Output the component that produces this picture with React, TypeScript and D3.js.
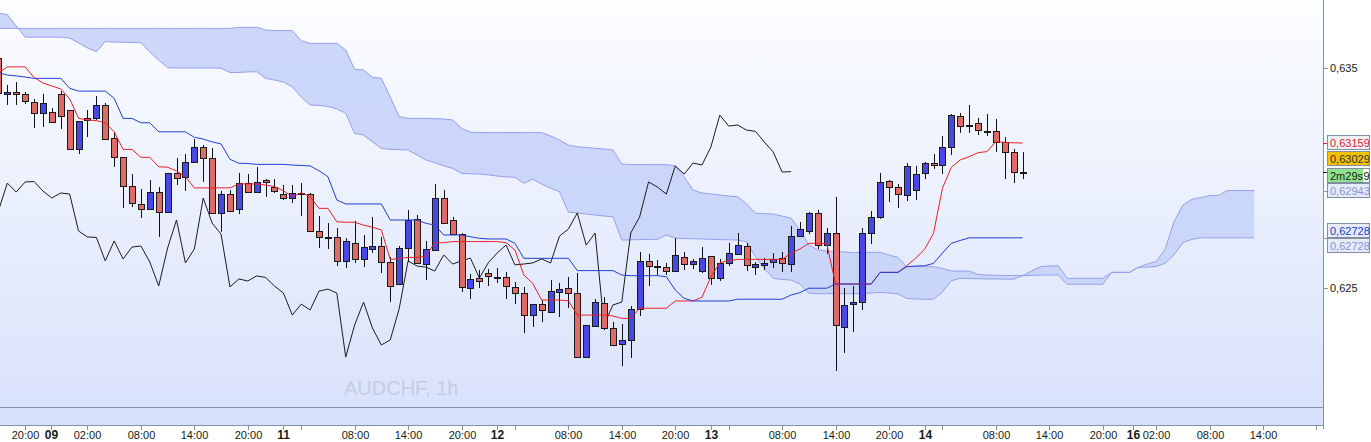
import * as d3 from "d3";

// AUDCHF hourly candles
const open = [
  0.63545, 0.63382, 0.63391, 0.63382, 0.63345, 0.63295, 0.633, 0.63382, 0.63309, 0.63132,
  0.63273, 0.63273, 0.63332, 0.63182, 0.63095, 0.62964, 0.62882, 0.62859, 0.62936, 0.62845,
  0.63023, 0.63005, 0.63073, 0.63141, 0.63091, 0.62841, 0.62927, 0.62859, 0.62977, 0.62936,
  0.62991, 0.62959, 0.62927, 0.62909, 0.62932, 0.62927, 0.62759, 0.62732, 0.62732, 0.62623,
  0.62705, 0.62632, 0.62677, 0.62691, 0.62618, 0.62518, 0.62682, 0.62814, 0.62609, 0.62673,
  0.62909, 0.62809, 0.62745, 0.625, 0.62545, 0.62568, 0.6255, 0.6255, 0.62505, 0.62477,
  0.62377, 0.62427, 0.62391, 0.62482, 0.625, 0.62477, 0.62186, 0.62327, 0.62432, 0.62318,
  0.62245, 0.62264, 0.62405, 0.62623, 0.62598, 0.62595, 0.62577, 0.62641, 0.62609, 0.62577,
  0.62645, 0.62545, 0.62614, 0.62655, 0.62691, 0.62595, 0.62605, 0.62618, 0.62636, 0.62609,
  0.62736, 0.62759, 0.62841, 0.62695, 0.6275, 0.62323, 0.62427, 0.62436, 0.6275, 0.62823,
  0.62986, 0.62959, 0.62923, 0.62945, 0.63023, 0.63068, 0.63059, 0.63141, 0.63282, 0.63243,
  0.6325, 0.63214, 0.63214, 0.63164, 0.63118, 0.63027,
];
const high = [
  0.63555, 0.63423, 0.63436, 0.63391, 0.63359, 0.63382, 0.63318, 0.63395, 0.63309, 0.63259,
  0.63309, 0.63373, 0.63341, 0.63209, 0.63095, 0.63018, 0.6295, 0.62991, 0.62959, 0.63023,
  0.63091, 0.63109, 0.63177, 0.6315, 0.63136, 0.62941, 0.62945, 0.63023, 0.63018, 0.6305,
  0.62995, 0.62995, 0.62968, 0.62968, 0.62977, 0.62932, 0.62827, 0.62795, 0.62773, 0.62727,
  0.62805, 0.62741, 0.62823, 0.62732, 0.62641, 0.62691, 0.62855, 0.62832, 0.62714, 0.62973,
  0.62945, 0.62823, 0.6275, 0.62564, 0.62582, 0.62586, 0.62591, 0.62573, 0.62527, 0.62505,
  0.62427, 0.62445, 0.62536, 0.62523, 0.6255, 0.62568, 0.62332, 0.6245, 0.62459, 0.62345,
  0.62336, 0.62418, 0.62664, 0.62655, 0.62627, 0.62614, 0.62727, 0.62664, 0.62632, 0.62686,
  0.62645, 0.62632, 0.62705, 0.6275, 0.62705, 0.62618, 0.62636, 0.62659, 0.62664, 0.62782,
  0.628, 0.62845, 0.62855, 0.62773, 0.62914, 0.625, 0.62509, 0.62773, 0.6285, 0.63023,
  0.62991, 0.62973, 0.63068, 0.63055, 0.63073, 0.63109, 0.63191, 0.63291, 0.63295, 0.63332,
  0.63273, 0.63291, 0.63268, 0.63186, 0.63132, 0.63118,
];
const low = [
  0.63377, 0.63332, 0.63332, 0.63336, 0.63227, 0.63232, 0.6325, 0.63223, 0.63127, 0.63109,
  0.63186, 0.63264, 0.63173, 0.6305, 0.62864, 0.62868, 0.62818, 0.62859, 0.62732, 0.62841,
  0.62968, 0.62941, 0.63068, 0.62982, 0.62836, 0.62755, 0.62845, 0.62836, 0.62932, 0.62936,
  0.62914, 0.62932, 0.629, 0.62886, 0.62827, 0.62755, 0.62682, 0.62677, 0.626, 0.62591,
  0.62614, 0.62595, 0.62659, 0.62568, 0.62436, 0.62514, 0.62618, 0.62609, 0.62536, 0.62668,
  0.62791, 0.62741, 0.62482, 0.6245, 0.625, 0.62509, 0.62523, 0.6245, 0.62427, 0.62295,
  0.62323, 0.62345, 0.62386, 0.62368, 0.62409, 0.62182, 0.62182, 0.62327, 0.62309, 0.62236,
  0.62145, 0.62182, 0.62373, 0.62509, 0.62559, 0.62559, 0.62577, 0.62582, 0.62586, 0.62568,
  0.62514, 0.62532, 0.626, 0.62655, 0.62577, 0.62559, 0.62582, 0.62591, 0.62573, 0.62573,
  0.62736, 0.62745, 0.62677, 0.62655, 0.62123, 0.62205, 0.623, 0.624, 0.627, 0.62814,
  0.62891, 0.62864, 0.62895, 0.629, 0.62995, 0.63041, 0.63018, 0.63105, 0.63205, 0.63205,
  0.63195, 0.63191, 0.63118, 0.62995, 0.62977, 0.62995,
];
const close = [
  0.63386, 0.63389, 0.63382, 0.6335, 0.63295, 0.63341, 0.63255, 0.63282, 0.63132, 0.63259,
  0.63264, 0.63332, 0.63177, 0.63095, 0.62964, 0.62886, 0.62859, 0.62936, 0.62845, 0.63023,
  0.63, 0.63073, 0.63141, 0.63091, 0.62841, 0.62927, 0.6285, 0.62977, 0.62936, 0.62982,
  0.62984, 0.62941, 0.62909, 0.62932, 0.62927, 0.62759, 0.62732, 0.6273, 0.62623, 0.62714,
  0.62632, 0.62686, 0.62691, 0.62618, 0.62509, 0.62682, 0.62809, 0.62614, 0.62677, 0.62909,
  0.62795, 0.62745, 0.62505, 0.62541, 0.62532, 0.62555, 0.62548, 0.62509, 0.62477, 0.62377,
  0.62427, 0.624, 0.62486, 0.62495, 0.62477, 0.62186, 0.62332, 0.62436, 0.62318, 0.62241,
  0.62264, 0.62405, 0.62623, 0.626, 0.62595, 0.62577, 0.6265, 0.62609, 0.62623, 0.62636,
  0.62545, 0.62614, 0.62659, 0.62695, 0.62605, 0.62609, 0.62614, 0.62632, 0.62614, 0.62736,
  0.62768, 0.62841, 0.62695, 0.6275, 0.62332, 0.62423, 0.62436, 0.6275, 0.62823, 0.62982,
  0.62959, 0.62927, 0.63055, 0.63018, 0.63068, 0.63059, 0.63141, 0.63286, 0.63236, 0.63241,
  0.63218, 0.63212, 0.63164, 0.63118, 0.63027, 0.63029,
];

// Ichimoku lines
const tenkan = [
  0.63477, 0.63505, 0.63505, 0.63505, 0.63457, 0.63432, 0.63418, 0.63405, 0.6336, 0.63271,
  0.63264, 0.63261, 0.63251, 0.6321, 0.6313, 0.6313, 0.63094, 0.63094, 0.63051, 0.63049,
  0.63032, 0.63006, 0.62955, 0.62955, 0.62955, 0.62955, 0.62955, 0.62973, 0.62973, 0.62973,
  0.62968, 0.62961, 0.62942, 0.62915, 0.62933, 0.62915, 0.62862, 0.62862, 0.62801, 0.62799,
  0.62799, 0.62786, 0.62776, 0.62764, 0.6263, 0.62634, 0.62639, 0.62639, 0.62645, 0.62706,
  0.62706, 0.62711, 0.62711, 0.62711, 0.62711, 0.62711, 0.62711, 0.62706, 0.62673, 0.62559,
  0.62521, 0.62445, 0.62445, 0.62445, 0.62442, 0.62377, 0.62377, 0.62377, 0.62377, 0.62373,
  0.62362, 0.62362, 0.62408, 0.62408, 0.62408, 0.62408, 0.62441, 0.62441, 0.62441, 0.62458,
  0.62551, 0.62615, 0.62624, 0.6263, 0.6263, 0.6263, 0.6263, 0.6263, 0.6263, 0.62658,
  0.62677, 0.62703, 0.62703, 0.62703, 0.62518, 0.62518, 0.62518, 0.62518, 0.62518, 0.62571,
  0.62571, 0.62571, 0.62601, 0.62636, 0.62676, 0.62749, 0.62953, 0.63049, 0.63082, 0.63097,
  0.63115, 0.6312, 0.63165, 0.63162, 0.6316, 0.63159,
];
const kijun = [
  0.63479, 0.63468, 0.63464, 0.63459, 0.63453, 0.63453, 0.63453, 0.63453, 0.63408, 0.63395,
  0.63395, 0.63395, 0.63395, 0.63362, 0.63271, 0.63271, 0.63251, 0.63251, 0.6321, 0.6321,
  0.6321, 0.6321, 0.63185, 0.63177, 0.63164, 0.63155, 0.63085, 0.63067, 0.63066, 0.63062,
  0.63062, 0.63062, 0.63062, 0.63059, 0.63057, 0.63055, 0.63033, 0.63006, 0.629, 0.62882,
  0.62882, 0.62882, 0.62882, 0.62882, 0.62809, 0.62809, 0.62809, 0.62809, 0.62794, 0.62786,
  0.62741, 0.62741, 0.62741, 0.62733, 0.62726, 0.62723, 0.62723, 0.62723, 0.62703, 0.62635,
  0.62635, 0.62635, 0.62635, 0.62635, 0.62635, 0.62579, 0.62579, 0.62579, 0.62579, 0.62579,
  0.62559, 0.62556, 0.62556, 0.62556, 0.62556, 0.62551, 0.62491, 0.62453, 0.62441, 0.62441,
  0.62441, 0.62441, 0.62441, 0.62449, 0.62449, 0.62449, 0.62449, 0.62449, 0.62449, 0.62468,
  0.62479, 0.62499, 0.62499, 0.62499, 0.62518, 0.62518, 0.62518, 0.62518, 0.62518, 0.62571,
  0.62571, 0.62571, 0.62597, 0.626, 0.62601, 0.62612, 0.62659, 0.62703, 0.62716, 0.62728,
  0.62728, 0.62728, 0.62728, 0.62728, 0.62728, 0.62728,
];
// senkou spans, already shifted 26 bars forward
const spanA = [
  0.63749, 0.63743, 0.63691, 0.6364, 0.6364, 0.6364, 0.6364, 0.6364, 0.63636, 0.63614,
  0.63591, 0.63574, 0.6362, 0.63618, 0.63617, 0.63616, 0.63615, 0.63573, 0.63536, 0.63501,
  0.635, 0.635, 0.635, 0.635, 0.635, 0.63499, 0.63479, 0.6348, 0.63482, 0.63483,
  0.63453, 0.63445, 0.63436, 0.63414, 0.63368, 0.63332, 0.6333, 0.63325, 0.63314, 0.63294,
  0.63203, 0.63195, 0.63164, 0.63135, 0.6313, 0.63129, 0.63127, 0.63105, 0.63082, 0.6307,
  0.63055, 0.63044, 0.63021, 0.63019, 0.63018, 0.63014, 0.63009, 0.63005, 0.63003, 0.62976,
  0.62994, 0.62973, 0.62953, 0.62938, 0.62845, 0.62841, 0.62836, 0.62832, 0.62827, 0.62824,
  0.62718, 0.62719, 0.6272, 0.62721, 0.62721, 0.62741, 0.62726, 0.62725, 0.62724, 0.62723,
  0.62721, 0.6272, 0.62719, 0.62718, 0.6271, 0.62642, 0.62589, 0.62544, 0.62539, 0.62536,
  0.62518, 0.62476, 0.62474, 0.62474, 0.62474, 0.62474, 0.62474, 0.62475, 0.62477, 0.6248,
  0.62477, 0.62473, 0.62453, 0.6245, 0.62449, 0.62449, 0.62482, 0.62533, 0.62544, 0.62543,
  0.62542, 0.62541, 0.62541, 0.6254, 0.6254, 0.62556, 0.62577, 0.62597, 0.626, 0.62601,
  0.62544, 0.62544, 0.62544, 0.62544, 0.62544, 0.62571, 0.62571, 0.62571, 0.62594, 0.62609,
  0.6262, 0.62676, 0.62801, 0.62877, 0.62903, 0.62911, 0.6292, 0.62921, 0.62943, 0.62943,
  0.62943, 0.62943,
];
const spanB = [
  0.6368, 0.6368, 0.6368, 0.6368, 0.6368, 0.6368, 0.6368, 0.6368, 0.6368, 0.6368,
  0.6368, 0.6368, 0.6368, 0.6368, 0.6368, 0.6368, 0.6368, 0.6368, 0.6368, 0.6368,
  0.6368, 0.6368, 0.6368, 0.6368, 0.6368, 0.6368, 0.6368, 0.63685, 0.63685, 0.63685,
  0.63673, 0.6367, 0.6367, 0.6367, 0.63624, 0.63612, 0.63612, 0.63612, 0.63612, 0.63582,
  0.63494, 0.63491, 0.63458, 0.63453, 0.63368, 0.63279, 0.63271, 0.63271, 0.63271, 0.6327,
  0.63268, 0.63264, 0.63226, 0.63208, 0.63207, 0.63207, 0.63207, 0.63207, 0.63207, 0.63207,
  0.63207, 0.63206, 0.63191, 0.63173, 0.6315, 0.63142, 0.63139, 0.63135, 0.63132, 0.63127,
  0.63064, 0.63061, 0.63061, 0.63061, 0.63061, 0.63061, 0.63055, 0.63005, 0.62945, 0.62932,
  0.62927, 0.62923, 0.62918, 0.62915, 0.62882, 0.6284, 0.62838, 0.62836, 0.62827, 0.62817,
  0.62764, 0.62695, 0.62673, 0.62668, 0.62665, 0.62664, 0.6266, 0.62662, 0.62662, 0.62662,
  0.6265, 0.62639, 0.62597, 0.62597, 0.62597, 0.62597, 0.62589, 0.62577, 0.62577, 0.62577,
  0.62562, 0.62559, 0.62558, 0.62557, 0.62557, 0.62556, 0.62557, 0.62559, 0.62559, 0.62559,
  0.62517, 0.62517, 0.62517, 0.62517, 0.62517, 0.62571, 0.62571, 0.62571, 0.62594, 0.62595,
  0.62598, 0.62612, 0.6265, 0.62706, 0.62721, 0.62728, 0.62728, 0.62728, 0.62728, 0.62728,
  0.62728, 0.62728,
];

const priceTicks = [0.625, 0.635];
// time axis: bar index of each tick and its label ("" = tick only)
const timeTicks = [3, 5.9, 10, 16, 22, 28, 32, 34, 40, 46, 52, 56, 58, 64, 70, 76, 80, 82, 88, 94, 100, 104, 106, 112, 118, 124, 127.4, 130, 136, 142, 148];
const timeLabels = ["20:00", "09", "02:00", "08:00", "14:00", "20:00", "11", "", "08:00", "14:00", "20:00", "12", "", "08:00", "14:00", "20:00", "13", "", "08:00", "14:00", "20:00", "14", "", "08:00", "14:00", "20:00", "16", "02:00", "08:00", "14:00", ""];
const dayLabels = ["09", "11", "12", "13", "14", "16"];

const W = 1371;
const H = 442;
const plotW = 1323;
const plotH = 425;
const shift = 26;

const x = d3.scaleLinear().domain([0, 148]).range([-1.6, -1.6 + 8.906 * 148]);
const y = d3.scaleLinear().domain([0.625, 0.635]).range([288, 68]);

const idx = (arr: number[]) => arr.map((v, i) => [i, v] as [number, number]);
const line = d3.line<[number, number]>().x((d) => x(d[0])).y((d) => y(d[1]));
const cloud = d3
  .area<number>()
  .x((_, i) => x(i))
  .y0((d) => y(d))
  .y1((_, i) => y(spanB[i]));

const chikou = close.slice(shift).map((v, i) => [i, v] as [number, number]);

const RED = "#e06a66";
const BLUE = "#4848e6";
const FONT = "'Liberation Sans', Arial, sans-serif";

type Tag = { value: number; text: string; color: string; bg: string; dy: number };
const tags: Tag[] = [
  { value: tenkan[tenkan.length - 1], text: "0,63159", color: "#e3202c", bg: "#eef0f8", dy: -1 },
  { value: close[close.length - 1], text: "0,63029", color: "#303030", bg: "#f5c200", dy: -14 },
  { value: spanA[spanA.length - 1], text: "0,62943", color: "#8895d8", bg: "#e6ebf8", dy: -1 },
  { value: kijun[kijun.length - 1], text: "0,62728", color: "#1e3cc8", bg: "#e6ebf8", dy: -8 },
  { value: spanB[spanB.length - 1], text: "0,62728", color: "#8895d8", bg: "#e6ebf8", dy: 7 },
];

export default function App() {
  const last = close[close.length - 1];
  const cdTop = Math.round(y(last) - 4) + 0.5;
  return (
    <svg width={W} height={H} style={{ position: "absolute", left: 0, top: 0, background: "#fff" }}>
      <defs>
        <linearGradient id="bg" x1="0" y1="0" x2="0" y2="1">
          <stop offset="0" stopColor="#fcfdff" />
          <stop offset="1" stopColor="#d7e1fb" />
        </linearGradient>
        <clipPath id="plot">
          <rect x={0} y={0} width={plotW} height={plotH} />
        </clipPath>
      </defs>
      <rect x={0} y={0} width={plotW} height={plotH} fill="url(#bg)" />

      <text x={344} y={395} fontFamily={FONT} fontSize={20} fill="#c5cce1">
        AUDCHF, 1h
      </text>

      <g clipPath="url(#plot)">
        <path d={cloud(spanA) ?? ""} fill="#c6d3fa" opacity={0.9} />
        <path d={line(idx(spanA)) ?? ""} fill="none" stroke="#97a1ea" strokeWidth={1} />
        <path d={line(idx(spanB)) ?? ""} fill="none" stroke="#97a1ea" strokeWidth={1} />
        <path d={line(chikou) ?? ""} fill="none" stroke="#1c1c1c" strokeWidth={1} />

        {open.map((o, i) => {
          const c = close[i];
          const cx = Math.round(x(i)) + 0.5;
          const top = Math.round(y(Math.max(o, c))) + 0.5;
          const bot = Math.round(y(Math.min(o, c))) + 0.5;
          return (
            <g key={i}>
              <line x1={cx} x2={cx} y1={y(high[i])} y2={y(low[i])} stroke="#111" />
              <rect
                x={cx - 3}
                y={top}
                width={6}
                height={Math.max(1, bot - top)}
                fill={c >= o ? BLUE : RED}
                stroke="#1a1a1a"
              />
            </g>
          );
        })}

        <path d={line(idx(tenkan)) ?? ""} fill="none" stroke="#ea1f28" strokeWidth={1} />
        <path d={line(idx(kijun)) ?? ""} fill="none" stroke="#1f3fd0" strokeWidth={1} />
      </g>

      {/* frame */}
      <line x1={0} x2={plotW} y1={407.5} y2={407.5} stroke="#8392aa" />
      <line x1={0} x2={plotW} y1={plotH + 0.5} y2={plotH + 0.5} stroke="#8392aa" />
      <line x1={plotW + 0.5} x2={plotW + 0.5} y1={0} y2={plotH + 4} stroke="#8392aa" />

      {/* time axis */}
      {timeTicks.map((t, i) => {
        const tx = Math.round(x(t)) + 0.5;
        const lab = timeLabels[i];
        const bold = dayLabels.includes(lab);
        return (
          <g key={i}>
            {tx < plotW && <line x1={tx} x2={tx} y1={plotH + 1} y2={plotH + 5} stroke="#8392aa" />}
            {lab && (
              <text
                x={tx}
                y={439}
                textAnchor="middle"
                fontFamily={FONT}
                fontSize={bold ? 12 : 11}
                fontWeight={bold ? "bold" : "normal"}
                fill="#1a1a1a"
              >
                {lab}
              </text>
            )}
          </g>
        );
      })}

      {/* price axis */}
      {priceTicks.map((p) => (
        <g key={p}>
          <line x1={plotW} x2={plotW + 5} y1={y(p) + 0.5} y2={y(p) + 0.5} stroke="#8392aa" />
          <text x={plotW + 7} y={y(p) + 4} fontFamily={FONT} fontSize={11} fill="#1a1a1a">
            {d3.format(".3f")(p).replace(".", ",")}
          </text>
        </g>
      ))}

      {tags.map((t, i) => {
        const cy = y(t.value);
        const by = Math.round(cy + t.dy - 7) + 0.5;
        return (
          <g key={i}>
            <line x1={plotW} x2={plotW + 5} y1={Math.round(cy) + 0.5} y2={Math.round(cy) + 0.5} stroke={t.color} />
            <rect x={plotW + 4.5} y={by} width={42} height={14} fill={t.bg} stroke="#7f8ea3" />
            <text x={plotW + 7} y={by + 11} fontFamily={FONT} fontSize={11} fill={t.color}>
              {t.text}
            </text>
          </g>
        );
      })}

      {/* bar countdown over the last price */}
      <g>
        <line x1={plotW} x2={plotW + 5} y1={Math.round(y(last)) + 0.5} y2={Math.round(y(last)) + 0.5} stroke="#111" />
        <rect x={plotW + 4.5} y={cdTop} width={42} height={14} fill="#fff" stroke="#7f8ea3" />
        <rect x={plotW + 5} y={cdTop + 0.5} width={35} height={13} fill="#8fe38f" />
        <text x={plotW + 7} y={cdTop + 11} fontFamily={FONT} fontSize={11} fill="#1a1a1a">
          2m29s
        </text>
        <text x={plotW + 40.5} y={cdTop + 11} fontFamily={FONT} fontSize={11} fill="#1a1a1a">
          9
        </text>
      </g>
    </svg>
  );
}
